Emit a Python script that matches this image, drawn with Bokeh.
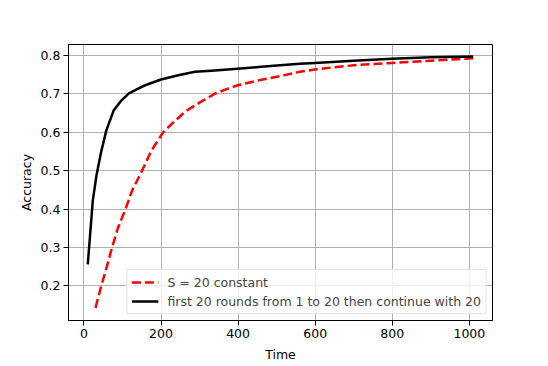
from bokeh.plotting import figure
from bokeh.models import Range1d, FixedTicker, Legend, LegendItem
from bokeh.embed import file_html
from bokeh.resources import INLINE

# Data
red_x = [30, 45, 60, 73, 88, 108, 125, 151, 175, 206, 237, 265, 302, 340, 370, 399,
         450, 500, 560, 599, 650, 700, 750, 799, 850, 900, 950, 1010]
red_y = [0.143, 0.200, 0.252, 0.300, 0.350, 0.400, 0.448, 0.500, 0.552, 0.600, 0.630,
         0.655, 0.678, 0.700, 0.712, 0.722, 0.734, 0.744, 0.757, 0.763, 0.769, 0.774,
         0.777, 0.780, 0.783, 0.786, 0.789, 0.792]

black_x = [10, 23, 33, 45, 58, 77, 95, 116, 138, 159, 200, 245, 288, 330, 399, 460,
           509, 560, 599, 700, 799, 900, 1010]
black_y = [0.256, 0.422, 0.490, 0.550, 0.604, 0.656, 0.680, 0.700, 0.712, 0.722, 0.737,
           0.748, 0.757, 0.760, 0.765, 0.770, 0.774, 0.778, 0.780, 0.786, 0.791, 0.795,
           0.797]

x_ticks = [0, 200, 400, 600, 800, 1000]
y_ticks = [0.2, 0.3, 0.4, 0.5, 0.6, 0.7, 0.8]

red_label = "S = 20 constant"
black_label = "first 20 rounds from 1 to 20 then continue with 20"

FONT = "DejaVu Sans"
FS = "12.5px"

p = figure(width=548, height=366, output_backend="svg", toolbar_location=None,
           x_range=Range1d(-40, 1060), y_range=Range1d(0.110, 0.828),
           min_border_left=68, min_border_right=56, min_border_top=44, min_border_bottom=46)
p.background_fill_color = "white"
p.border_fill_color = "white"
p.outline_line_color = "black"
p.outline_line_width = 1

r_red = p.line(red_x, red_y, line_color="#ff0000", line_width=2.5, line_dash="9 4",
               line_join="round")
r_black = p.line(black_x, black_y, line_color="black", line_width=2.5, line_join="round")

for ax in (p.xaxis[0], p.yaxis[0]):
    ax.major_tick_in = 0
    ax.major_tick_out = 5
    ax.minor_tick_line_color = None
    ax.axis_line_color = "black"
    ax.major_tick_line_color = "black"
    ax.major_label_text_font = FONT
    ax.major_label_text_font_size = FS
    ax.major_label_text_color = "black"
    ax.axis_label_text_font = FONT
    ax.axis_label_text_font_size = FS
    ax.axis_label_text_font_style = "normal"
    ax.axis_label_text_color = "black"
    ax.major_label_standoff = 3
p.xaxis[0].axis_label_standoff = 6
p.yaxis[0].axis_label_standoff = 4

p.xaxis.ticker = FixedTicker(ticks=x_ticks)
p.yaxis.ticker = FixedTicker(ticks=y_ticks)
p.xaxis.axis_label = "Time"
p.yaxis.axis_label = "Accuracy"

p.grid.grid_line_color = "#b0b0b0"
p.grid.grid_line_width = 1
p.xgrid.ticker = FixedTicker(ticks=x_ticks)
p.ygrid.ticker = FixedTicker(ticks=y_ticks)

legend = Legend(items=[LegendItem(label=red_label, renderers=[r_red]),
                       LegendItem(label=black_label, renderers=[r_black])],
                location="bottom_right")
legend.margin = 6
legend.padding = 4
legend.spacing = 3
legend.glyph_width = 27
legend.glyph_height = 16
legend.label_height = 16
legend.label_standoff = 9
legend.label_text_font = FONT
legend.label_text_font_size = FS
legend.border_line_color = "#cccccc"
legend.border_line_width = 1
legend.background_fill_alpha = 0.8
p.add_layout(legend)

open("out.html", "w").write(file_html(p, INLINE))
